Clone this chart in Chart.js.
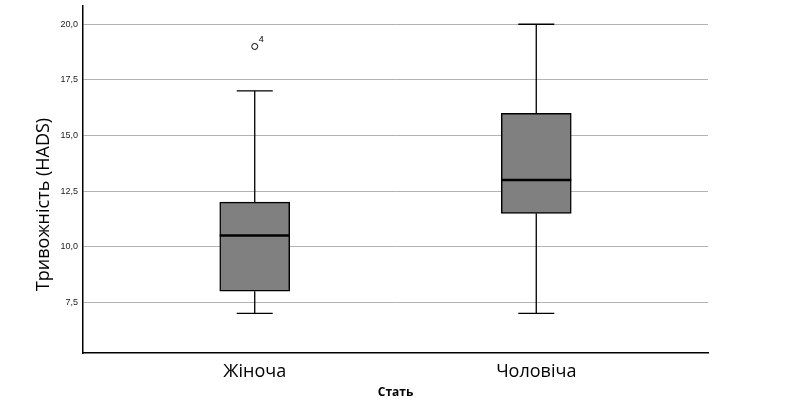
<!DOCTYPE html>
<html>
<head>
<meta charset="utf-8">
<script src="https://cdn.jsdelivr.net/npm/chart.js@4"></script>
<style>
  html, body { margin: 0; padding: 0; background: #fff; }
</style>
</head>
<body>
<canvas id="chart" width="788" height="410"></canvas>
<script>
// Boxplot data
let categories = ["Жіноча", "Чоловіча"];
let whiskerLow = [7, 7];
let q1 = [8, 11.5];
let medians = [10.5, 13];
let q3 = [12, 16];
let whiskerHigh = [17, 20];
let outlierValues = [19];
let outlierGroup = [0];
let outlierIds = ["4"];
let yTicks = [7.5, 10, 12.5, 15, 17.5, 20];
let yTitle = "Тривожність (HADS)";

// Whiskers behind the boxes, medians and outlier ids on top
const boxExtras = {
  id: "boxExtras",
  beforeDatasetsDraw(chart) {
    const ctx = chart.ctx, x = chart.scales.x, y = chart.scales.y;
    ctx.save();
    ctx.strokeStyle = "#000";
    ctx.lineWidth = 1.3;
    categories.forEach((c, i) => {
      let cx = x.getPixelForValue(i + 1);
      [whiskerLow[i], whiskerHigh[i]].forEach((w, k) => {
        let edge = k === 0 ? q1[i] : q3[i];
        ctx.beginPath();
        ctx.moveTo(cx, y.getPixelForValue(w));
        ctx.lineTo(cx, y.getPixelForValue(edge));
        ctx.moveTo(cx - 18, y.getPixelForValue(w));
        ctx.lineTo(cx + 18, y.getPixelForValue(w));
        ctx.stroke();
      });
    });
    ctx.restore();
  },
  afterDatasetsDraw(chart) {
    const ctx = chart.ctx, x = chart.scales.x, y = chart.scales.y;
    ctx.save();
    ctx.strokeStyle = "#000";
    ctx.lineWidth = 2.5;
    categories.forEach((c, i) => {
      let cx = x.getPixelForValue(i + 1);
      let my = y.getPixelForValue(medians[i]);
      ctx.beginPath();
      ctx.moveTo(cx - 35, my);
      ctx.lineTo(cx + 35, my);
      ctx.stroke();
    });
    ctx.fillStyle = "#000";
    ctx.font = "9px 'Liberation Sans'";
    ctx.textAlign = "left";
    ctx.textBaseline = "middle";
    outlierValues.forEach((v, i) => {
      let px = x.getPixelForValue(outlierGroup[i] + 1);
      let py = y.getPixelForValue(v);
      ctx.fillText(outlierIds[i], px + 4, py - 7);
    });
    ctx.restore();
  },
  // y title sits a bit below the middle of the axis, like the SPSS output
  afterDraw(chart) {
    const ctx = chart.ctx, area = chart.chartArea;
    ctx.save();
    ctx.translate(44, (area.top + area.bottom) / 2 + 25);
    ctx.rotate(-Math.PI / 2);
    ctx.fillStyle = "#000";
    ctx.font = "18px 'Open Sans'";
    ctx.textAlign = "center";
    ctx.textBaseline = "middle";
    ctx.fillText(yTitle, 0, 0);
    ctx.restore();
  }
};

new Chart(document.getElementById("chart"), {
  type: "bar",
  data: {
    datasets: [{
      type: "bar",
      data: categories.map((c, i) => ({ x: i + 1, y: [q1[i], q3[i]] })),
      backgroundColor: "#808080",
      borderColor: "#000",
      borderWidth: 1.5,
      borderSkipped: false,
      barThickness: 70
    }, {
      type: "scatter",
      data: outlierValues.map((v, i) => ({ x: outlierGroup[i] + 1, y: v })),
      pointRadius: 3,
      pointBackgroundColor: "#fff",
      pointBorderColor: "#000",
      pointBorderWidth: 1
    }]
  },
  options: {
    responsive: false,
    animation: false,
    layout: { padding: { top: 6, right: 80, left: 0, bottom: 0 } },
    plugins: { legend: { display: false }, tooltip: { enabled: false } },
    scales: {
      x: {
        type: "linear",
        offset: false,
        min: 0.39,
        max: 2.61,
        afterBuildTicks: s => { s.ticks = categories.map((c, i) => ({ value: i + 1 })); },
        afterFit: s => { s.height = 57; },
        ticks: {
          callback: v => categories[v - 1],
          color: "#000",
          font: { family: "'Open Sans'", size: 18 },
          padding: 8,
          maxRotation: 0
        },
        grid: { display: false, drawTicks: false, offset: false },
        border: { display: true, color: "#000", width: 1.5 },
        title: {
          display: true,
          text: "Стать",
          color: "#000",
          font: { family: "'Open Sans'", size: 12, weight: "bold" },
          padding: { top: 2, bottom: 10 }
        }
      },
      y: {
        min: 5.22,
        max: 20.82,
        afterBuildTicks: s => { s.ticks = yTicks.map(v => ({ value: v })); },
        afterFit: s => { s.width = 83; s.paddingTop = 0; s.paddingBottom = 0; },
        ticks: {
          callback: v => v.toFixed(1).replace(".", ","),
          color: "#222",
          font: { family: "'Liberation Sans'", size: 9 },
          padding: 5
        },
        grid: { color: "#b3b3b3", lineWidth: 1, drawTicks: false },
        border: { display: true, color: "#000", width: 1.5 },
        title: { display: false }
      }
    }
  },
  plugins: [boxExtras]
});
</script>
</body>
</html>
